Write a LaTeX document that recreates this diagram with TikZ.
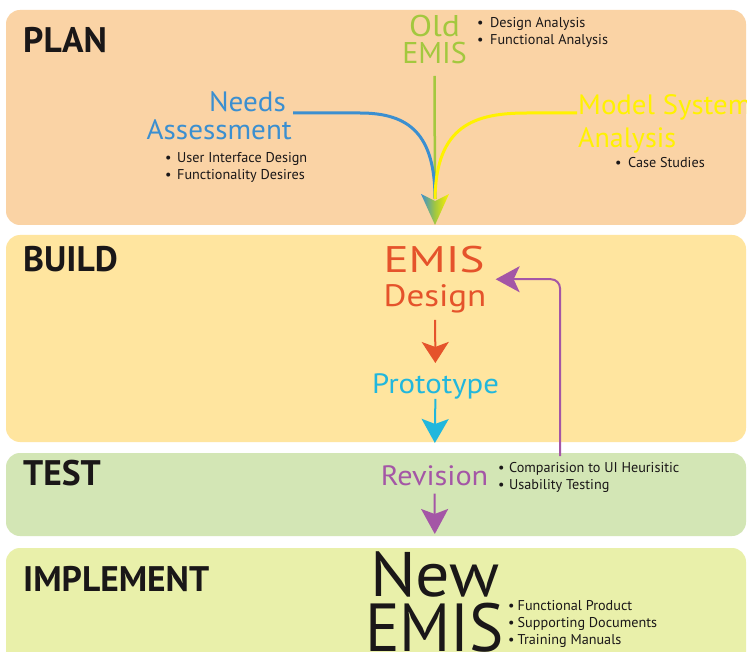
\documentclass[tikz,border=0pt]{standalone}
\usepackage{fontspec}
\usepackage{graphicx}
\setmainfont{PT Sans}
\usetikzlibrary{arrows.meta,calc}
\definecolor{planbg}{HTML}{FAD3A5}
\definecolor{buildbg}{HTML}{FFE59F}
\definecolor{testbg}{HTML}{D3E6B5}
\definecolor{implbg}{HTML}{E9F0AA}
\definecolor{oldgreen}{HTML}{A3C83E}
\definecolor{needblue}{HTML}{3B8FD0}
\definecolor{modyellow}{HTML}{FFF200}
\definecolor{desorange}{HTML}{E5532B}
\definecolor{protocyan}{HTML}{21B7DD}
\definecolor{revpurple}{HTML}{A456A6}
\definecolor{inkblack}{HTML}{1A1718}
\newcommand{\bul}[1]{\makebox[#1][l]{•}}
\newcommand{\wide}[2]{\scalebox{#1}[1]{#2}}
\tikzset{
  panel/.style={rounded corners=14pt},
  phasetitle/.style={inner sep=0pt, anchor=base west, text=inkblack,
    font=\fontsize{35.5}{40}\selectfont\bfseries},
  label/.style={inner sep=0pt, font=\fontsize{28}{32}\selectfont},
  notes/.style={inner sep=0pt, anchor=base west, text=inkblack,
    font=\fontsize{14.2}{17}\selectfont},
  flow/.style={line width=2pt},
}
\begin{document}
\begin{tikzpicture}[x=1pt,y=-1pt]
\useasboundingbox (0,0) rectangle (747,652);
\fill[white] (0,0) rectangle (747,652);
% panels
\fill[planbg, panel] (6,10) rectangle (746,225);
\fill[buildbg, panel] (6,235) rectangle (746,442);
\fill[testbg, panel] (6,453) rectangle (746,536);
\fill[implbg, panel] (6,548) rectangle (746,700);
% titles
\node[phasetitle] (plan) at (23,53) {PLAN};
\node[phasetitle] (build) at (23,272) {BUILD};
\node[phasetitle] (test) at (23,485) {TEST};
\node[phasetitle] (impl) at (23,591) {IMPLEMENT};
% PLAN content
\node[label, anchor=base, text=oldgreen, font=\fontsize{30}{34}\selectfont] (old1) at (434.5,37) {\wide{1.12}{Old}};
\node[label, anchor=base, text=oldgreen, font=\fontsize{30}{34}\selectfont] (old2) at (434.5,64) {EMIS};
\node[notes] (oldnotes) at (477,28) {\begin{tabular}[t]{@{}l@{}}\bul{13pt}Design Analysis\\\bul{13pt}Functional Analysis\end{tabular}};
\node[label, anchor=base east, text=needblue] (need1) at (286,112) {\wide{1.04}{Needs}};
\node[label, anchor=base east, text=needblue] (need2) at (292,140) {\wide{1.04}{Assessment}};
\node[notes] (neednotes) at (165,163) {\begin{tabular}[t]{@{}l@{}}\bul{12pt}User Interface Design\\\bul{12pt}Functionality Desires\end{tabular}};
\node[label, anchor=base west, text=modyellow] (mod1) at (578,115) {\wide{1.03}{Model System}};
\node[label, anchor=base west, text=modyellow] (mod2) at (578,148) {Analysis};
\node[notes] (modnotes) at (615,168) {\begin{tabular}[t]{@{}l@{}}\bul{13pt}Case Studies\end{tabular}};
\coordinate (mergetop) at (435,199);
\coordinate (merge) at (435,225);
\draw[oldgreen, line width=2.5pt] ([yshift=-12pt]old2.base) -- (mergetop);
\draw[needblue, line width=3pt] ([xshift=7pt,yshift=-1pt]need1.base east) -- ++(67,0)
  .. controls ++(50,0) and (435,135) .. (mergetop);
\draw[modyellow, line width=3pt] ([xshift=-1pt,yshift=2pt]mod1.base west) -- ++(-50,0)
  .. controls ++(-52,0) and (436,125) .. (mergetop);
\shade[left color=needblue, right color=modyellow, middle color=oldgreen]
  (421,194) -- (merge) -- (449,194) -- (435,201) -- cycle;
% BUILD content
\node[label, anchor=base, text=desorange, font=\fontsize{37}{40}\selectfont] (emis) at (434,273) {\wide{1.27}{EMIS}};
\node[label, anchor=base, text=desorange, font=\fontsize{31}{34}\selectfont] (design) at (435,307) {\wide{1.13}{Design}};
\node[label, anchor=base, text=protocyan] (proto) at (435.5,393) {\wide{1.1}{Prototype}};
\draw[flow, desorange, -{Stealth[length=21pt,width=27pt,inset=5pt]}, shorten <=6pt, shorten >=10pt] (design) -- (proto);
% TEST content
\node[label, anchor=base, text=revpurple] (rev) at (434.5,485) {\wide{1.08}{Revision}};
\node[notes] (revnotes) at (498,472) {\begin{tabular}[t]{@{}l@{}}\bul{11pt}Comparision to UI Heurisitic\\\bul{11pt}Usability Testing\end{tabular}};
\draw[flow, protocyan, -{Stealth[length=24pt,width=27pt,inset=5pt]}, shorten <=0pt, shorten >=22pt] (proto) -- (rev);
\coordinate (loopstart) at (560,456);
\draw[flow, revpurple, rounded corners=9pt, -{Stealth[length=24pt,width=26pt,inset=6pt]}, shorten >=10pt]
  (loopstart) |- ($(emis.south east)!0.5!(design.north east)$);
% IMPLEMENT content
\node[label, anchor=base, text=inkblack, font=\fontsize{63}{66}\selectfont] (new1) at (435,596) {\wide{1.08}{New}};
\node[label, anchor=base, text=inkblack, font=\fontsize{68}{70}\selectfont] (new2) at (434.5,651) {\wide{0.95}{EMIS}};
\node[notes] (implnotes) at (508,610) {\begin{tabular}[t]{@{}l@{}}\bul{9.5pt}Functional Product\\\bul{9.5pt}Supporting Documents\\\bul{9.5pt}Training Manuals\end{tabular}};
\draw[flow, revpurple, -{Stealth[length=25pt,width=27pt,inset=5pt]}, shorten <=8pt, shorten >=17pt] (rev) -- (new1);
\end{tikzpicture}
\end{document}
